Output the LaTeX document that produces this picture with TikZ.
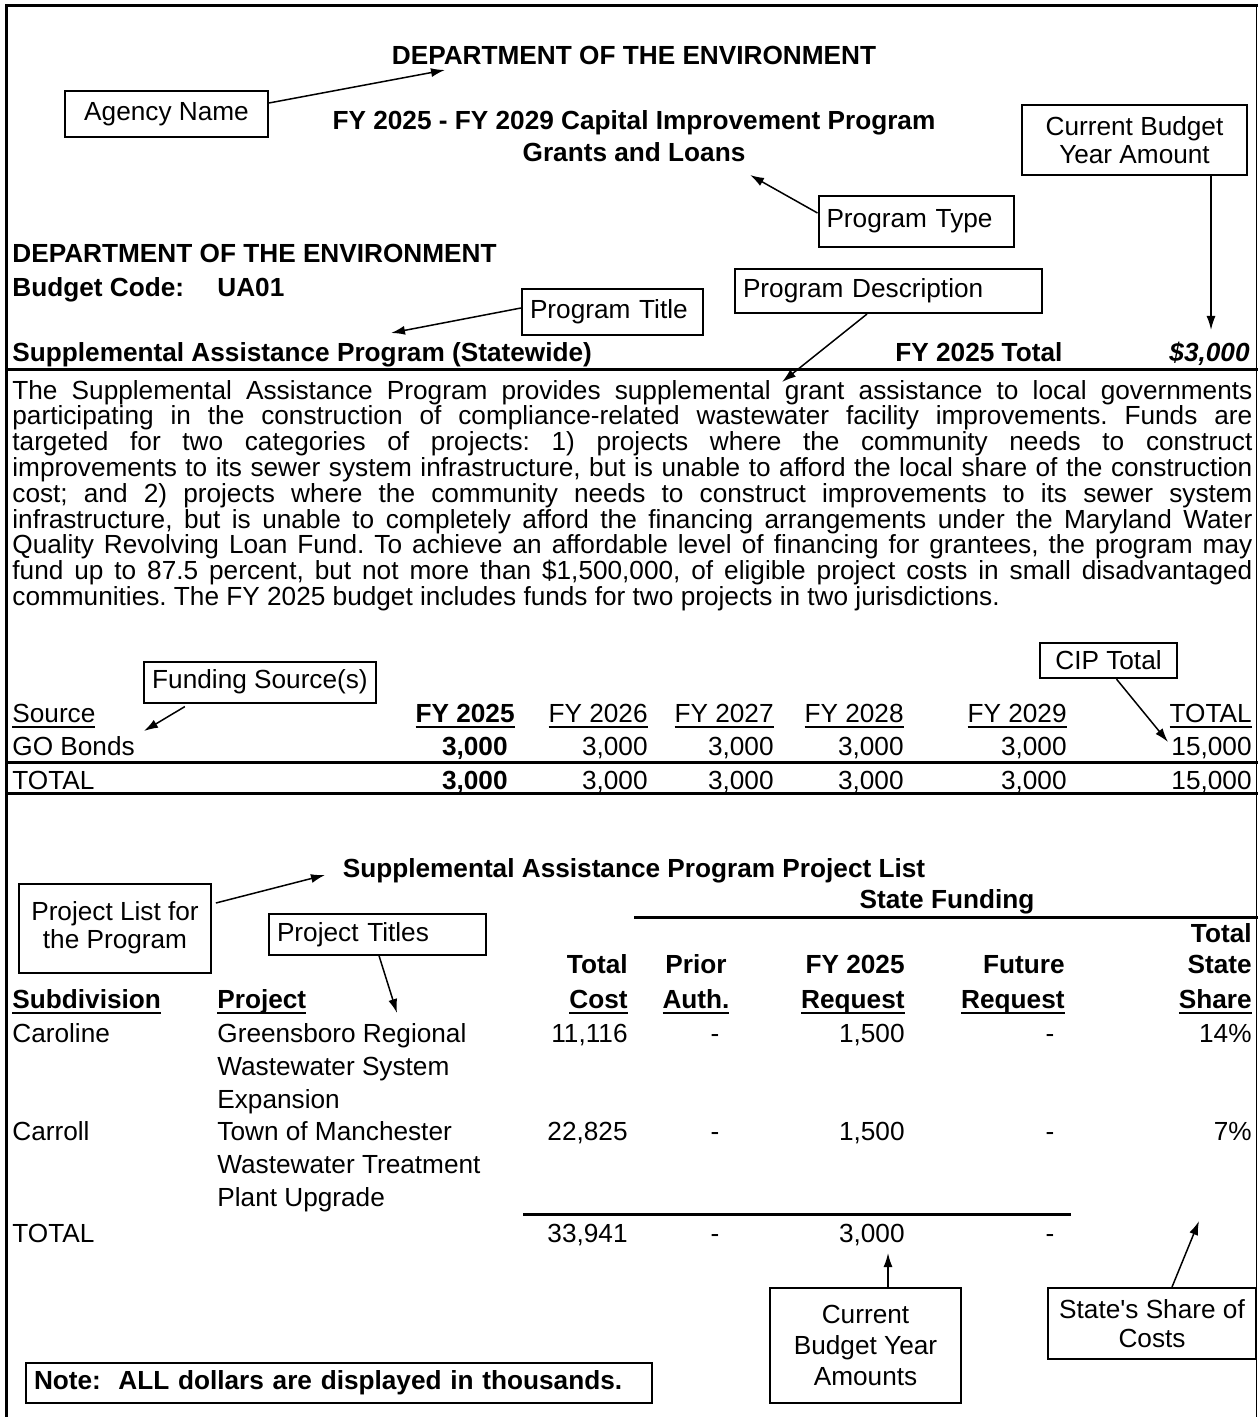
\documentclass[tikz,border=0pt]{standalone}
\usepackage{fontspec}
\setmainfont{Liberation Sans}
\usetikzlibrary{arrows.meta}
\newcommand{\arw}{-{Latex[length=7pt,width=4.5pt]}}
\newcommand{\undl}[1]{\setbox0\hbox{#1}\rlap{\rule[-3pt]{\wd0}{1.1pt}}\box0}
\newcommand{\jl}[1]{\hbox to 620pt{#1}}

\begin{document}
\fontsize{13.1pt}{14pt}\selectfont\frenchspacing
\begin{tikzpicture}[x=.5pt,y=-.5pt,
  lt/.style={anchor=base west,inner sep=0pt},
  rt/.style={anchor=base east,inner sep=0pt},
  ct/.style={anchor=base,inner sep=0pt},
  callout/.style={draw,line width=1pt,inner sep=4pt},
  heavy/.style={line width=1.5pt},
  lead/.style={line width=.75pt,\arw}]
\useasboundingbox (0,0) rectangle (1258,1417);
%frame and rules
\draw[heavy] (5,5.5) -- (1258,5.5);
\draw[heavy] (6.5,5.5) -- (6.5,1417);
\draw[line width=.8pt] (1256.5,5.5) -- (1256.5,1417);
\draw[heavy] (5,369) -- (1258,369);
\draw[heavy] (5,762) -- (1258,762);
\draw[heavy] (5,793) -- (1258,793);
\draw[heavy] (634,917) -- (1258,917);
\draw[heavy] (523,1214) -- (1071,1214);
%page header
\node[ct,font=\bfseries] (agencyhd) at (634,65) {DEPARTMENT OF THE ENVIRONMENT};
\node[ct,font=\bfseries] (ciphd) at (634,130) {FY 2025 - FY 2029 Capital Improvement Program};
\node[ct,font=\bfseries] (typehd) at (634,162) {Grants and Loans};
\node[lt,font=\bfseries] (dept) at (12,263) {DEPARTMENT OF THE ENVIRONMENT};
\node[lt,font=\bfseries] (code) at (12,297) {Budget Code:};
\node[lt,font=\bfseries] (codeval) at (217,297) {UA01};
\node[lt,font=\bfseries] (title) at (12,361) {Supplemental Assistance Program (Statewide)};
\node[lt,font=\bfseries] (fytot) at (895,361) {FY 2025 Total};
\node[rt,font=\bfseries\itshape] (fyamt) at (1250,361) {\$3,000};
%description
\node[anchor=base west,inner sep=0pt,font=\fontsize{13.1pt}{12.9pt}\selectfont] (desc) at (12,399) {\vtop{%
\jl{The Supplemental Assistance Program provides supplemental grant assistance to local governments}
\jl{participating in the construction of compliance-related wastewater facility improvements. Funds are}
\jl{targeted for two categories of projects: 1) projects where the community needs to construct}
\jl{improvements to its sewer system infrastructure, but is unable to afford the local share of the construction}
\jl{cost; and 2) projects where the community needs to construct improvements to its sewer system}
\jl{infrastructure, but is unable to completely afford the financing arrangements under the Maryland Water}
\jl{Quality Revolving Loan Fund. To achieve an affordable level of financing for grantees, the program may}
\jl{fund up to 87.5 percent, but not more than \$1,500,000, of eligible project costs in small disadvantaged}
\hbox{communities. The FY 2025 budget includes funds for two projects in two jurisdictions.}}};
%funding table
\node[lt] (src) at (12,722) {\undl{Source}};
\node[rt,font=\bfseries] (y25) at (515,722) {\undl{FY 2025}};
\node[rt] (y26) at (648,722) {\undl{FY 2026}};
\node[rt] (y27) at (774,722) {\undl{FY 2027}};
\node[rt] (y28) at (904,722) {\undl{FY 2028}};
\node[rt] (y29) at (1067,722) {\undl{FY 2029}};
\node[rt] (ytot) at (1252,722) {\undl{TOTAL}};
\node[lt] (gob) at (12,755) {GO Bonds};
\node[rt,font=\bfseries] (gob25) at (508,755) {3,000};
\node[rt] (gob26) at (648,755) {3,000};
\node[rt] (gob27) at (774,755) {3,000};
\node[rt] (gob28) at (904,755) {3,000};
\node[rt] (gob29) at (1067,755) {3,000};
\node[rt] (gobtot) at (1252,755) {15,000};
\node[lt] (tot) at (12,789) {TOTAL};
\node[rt,font=\bfseries] (tot25) at (508,789) {3,000};
\node[rt] (tot26) at (648,789) {3,000};
\node[rt] (tot27) at (774,789) {3,000};
\node[rt] (tot28) at (904,789) {3,000};
\node[rt] (tot29) at (1067,789) {3,000};
\node[rt] (tottot) at (1252,789) {15,000};
%project list
\node[ct,font=\bfseries] (listhd) at (634,877) {Supplemental Assistance Program Project List};
\node[ct,font=\bfseries] (statehd) at (947,908) {State Funding};
\node[rt,font=\bfseries] (hshareA) at (1252,942) {Total};
\node[rt,font=\bfseries] (hcostA) at (628,973) {Total};
\node[ct,font=\bfseries] (hpriorA) at (696,973) {Prior};
\node[rt,font=\bfseries] (hreqA) at (905,973) {FY 2025};
\node[rt,font=\bfseries] (hfutA) at (1065,973) {Future};
\node[rt,font=\bfseries] (hshareB) at (1252,973) {State};
\node[lt,font=\bfseries] (hsub) at (12,1008) {\undl{Subdivision}};
\node[lt,font=\bfseries] (hproj) at (217,1008) {\undl{Project}};
\node[rt,font=\bfseries] (hcostB) at (628,1008) {\undl{Cost}};
\node[ct,font=\bfseries] (hpriorB) at (696,1008) {\undl{Auth.}};
\node[rt,font=\bfseries] (hreqB) at (905,1008) {\undl{Request}};
\node[rt,font=\bfseries] (hfutB) at (1065,1008) {\undl{Request}};
\node[rt,font=\bfseries] (hshareC) at (1252,1008) {\undl{Share}};
\node[lt] (sub1) at (12,1042) {Caroline};
\node[lt] (proj1a) at (217,1042) {Greensboro Regional};
\node[lt] (proj1b) at (217,1075) {Wastewater System};
\node[lt] (proj1c) at (217,1108) {Expansion};
\node[rt] (cost1) at (628,1042) {11,116};
\node[ct] (prior1) at (715,1042) {-};
\node[rt] (req1) at (905,1042) {1,500};
\node[ct] (fut1) at (1050,1042) {-};
\node[rt] (share1) at (1252,1042) {14\%};
\node[lt] (sub2) at (12,1140) {Carroll};
\node[lt] (proj2a) at (217,1140) {Town of Manchester};
\node[lt] (proj2b) at (217,1173) {Wastewater Treatment};
\node[lt] (proj2c) at (217,1206) {Plant Upgrade};
\node[rt] (cost2) at (628,1140) {22,825};
\node[ct] (prior2) at (715,1140) {-};
\node[rt] (req2) at (905,1140) {1,500};
\node[ct] (fut2) at (1050,1140) {-};
\node[rt] (share2) at (1252,1140) {7\%};
\node[lt] (sub3) at (12,1242) {TOTAL};
\node[rt] (cost3) at (628,1242) {33,941};
\node[ct] (prior3) at (715,1242) {-};
\node[rt] (req3) at (905,1242) {3,000};
\node[ct] (fut3) at (1050,1242) {-};
%callouts
\node[callout,minimum width=101.5pt,minimum height=23pt] (agency) at (166.5,114) {Agency Name};
\node[callout,minimum width=112.5pt,minimum height=35pt,align=center] (curbud) at (1134.5,140) {Current Budget\\Year Amount};
\node[callout,text width=89.5pt,align=left,minimum height=25.5pt] (ptype) at (916,221.5) {Program Type};
\node[callout,text width=82.5pt,align=left,minimum height=23pt] (ptitle) at (612.5,312) {Program Title};
\node[callout,text width=145.5pt,align=left,minimum height=22pt] (pdesc) at (888.5,291) {Program Description};
\node[callout,minimum width=115pt,minimum height=20.5pt] (funding) at (260,682) {Funding Source(s)};
\node[callout,minimum width=68.5pt,minimum height=16.5pt,inner xsep=2pt] (cip) at (1108.5,660.5) {CIP Total};
\node[callout,minimum width=96pt,minimum height=44.5pt,align=center] (plist) at (115,928) {Project List for\\the Program};
\node[callout,text width=100.5pt,align=left,minimum height=18.5pt] (ptitles) at (377.5,934.5) {Project Titles};
\node[callout,minimum width=95.5pt,minimum height=57.5pt,align=center,font=\fontsize{13.1pt}{15.5pt}\selectfont] (cbya) at (865.5,1345.5) {Current\\Budget Year\\Amounts};
\node[callout,minimum width=104pt,minimum height=35.5pt,align=center,font=\fontsize{13.1pt}{14.5pt}\selectfont] (share) at (1152,1323.5) {State\textquotesingle s Share of\\Costs};
\node[callout,text width=305pt,align=left,minimum height=20pt,font=\bfseries] (note) at (339,1383) {Note:\ \ ALL dollars are displayed in thousands.};
%leader arrows
\coordinate (agencytip) at (445,70);
\coordinate (ptypetip) at (750,175);
\coordinate (curbudtip) at (1211,330);
\coordinate (ptitletip) at (391,333);
\coordinate (pdesctip) at (782,382);
\coordinate (fundingtip) at (144,731);
\coordinate (ciptip) at (1168,742);
\coordinate (plisttip) at (325,875);
\coordinate (ptitlestip) at (397,1013);
\coordinate (cbyatip) at (888,1253);
\coordinate (sharetip) at (1199,1221);
\draw[lead] ([yshift=5.5pt]agency.east) -- (agencytip);
\draw[lead] ([yshift=4.25pt]ptype.west) -- (ptypetip);
\draw[lead] ([xshift=38.25pt]curbud.south) -- (curbudtip);
\draw[lead] ([yshift=2pt]ptitle.west) -- (ptitletip);
\draw[lead] ([xshift=-10.75pt]pdesc.south) -- (pdesctip);
\draw[lead,shorten <=3pt] ([xshift=-35pt]funding.south) -- (fundingtip);
\draw[lead] ([xshift=4pt]cip.south) -- (ciptip);
\draw[lead,shorten <=2pt] ([yshift=12pt]plist.east) -- (plisttip);
\draw[lead] ([xshift=.75pt]ptitles.south) -- (ptitlestip);
\draw[lead] ([xshift=11.25pt]cbya.north) -- (cbyatip);
\draw[lead] ([xshift=10pt]share.north) -- (sharetip);
\end{tikzpicture}
\end{document}
